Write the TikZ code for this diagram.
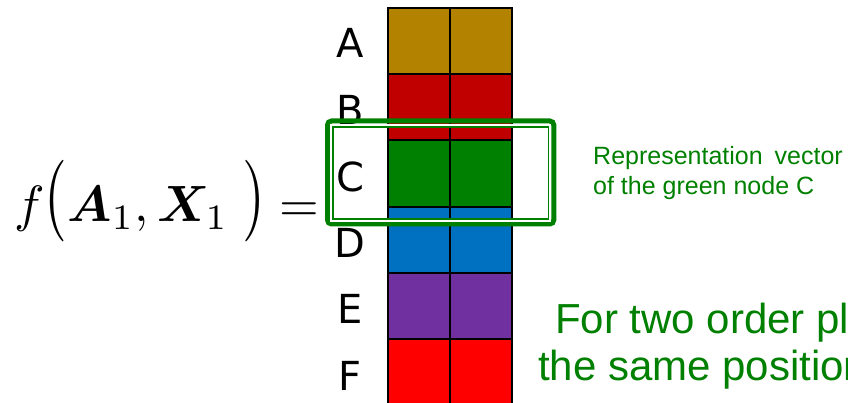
\documentclass[tikz,border=0pt]{standalone}
\usepackage{amsmath,bm,graphicx}
\usepackage[no-math]{fontspec}
\setmainfont{Liberation Sans}
\newfontfamily\labfont{DejaVu Sans}
\definecolor{cA}{HTML}{B38300}
\definecolor{cB}{HTML}{C00000}
\definecolor{cC}{HTML}{008000}
\definecolor{cD}{HTML}{0070C0}
\definecolor{cE}{HTML}{7030A0}
\definecolor{cF}{HTML}{FF0000}
\definecolor{txtgreen}{HTML}{008000}
\newcommand{\bigpl}{\mathopen{\scalebox{1.15}[1.6]{$($}}}
\newcommand{\bigpr}{\mathclose{\scalebox{1.15}[1.6]{$)$}}}
\tikzset{
  cellbox/.style={draw=black, line width=2pt},
  rowlab/.style={anchor=base, inner sep=0pt, font=\labfont\fontsize{40}{40}\selectfont},
  smallgreen/.style={anchor=base west, inner sep=0pt, text=txtgreen, font=\fontsize{25}{30}\selectfont},
  biggreen/.style={anchor=base west, inner sep=0pt, text=txtgreen, font=\fontsize{42}{47}\selectfont},
}
\begin{document}
\begin{tikzpicture}[x=1pt,y=-1pt]
\useasboundingbox (0,0) rectangle (848,403);
\clip (0,0) rectangle (848,403);
% cells
\foreach \c [count=\i from 0] in {cA,cB,cC,cD,cE,cF}{
  \pgfmathsetmacro{\top}{8+66.2*\i}
  \pgfmathsetmacro{\bot}{8+66.2*(\i+1)}
  \filldraw[cellbox, fill=\c] (388,\top) rectangle (450,\bot);
  \filldraw[cellbox, fill=\c] (450,\top) rectangle (512,\bot);
}
% labels
\node[rowlab] (la) at (350,58) {A};
\node[rowlab] (lb) at (350,124.2) {B};
\node[rowlab] (lc) at (350,191.4) {C};
\node[rowlab] (ld) at (350,257.6) {D};
\node[rowlab] (le) at (350,323.8) {E};
\node[rowlab] (lf) at (350,390) {F};
% green highlight box
\draw[cC, line width=5pt, rounded corners=4pt] (327.5,121) rectangle (553.8,224);
\draw[white, line width=2.2pt] (331,124.8) rectangle (550.3,220.8);
\draw[cC, line width=1.7pt] (333,126.7) rectangle (548.5,219.2);
% equation
\node[anchor=base west, inner sep=0pt] (eq) at (14,222)
  {\scalebox{5.1}{$f\bigpl\bm{A}_1,\bm{X}_1\;\bigpr=$}};
% texts
\node[smallgreen] (r1) at (593,165) {Representation\hspace{5pt} vector};
\node[smallgreen] (r2) at (593,195) {of the green node C};
\node[biggreen] (g1) at (555,333) {For two order placements};
\node[biggreen] (g2) at (538,380) {the same position};
\end{tikzpicture}
\end{document}
